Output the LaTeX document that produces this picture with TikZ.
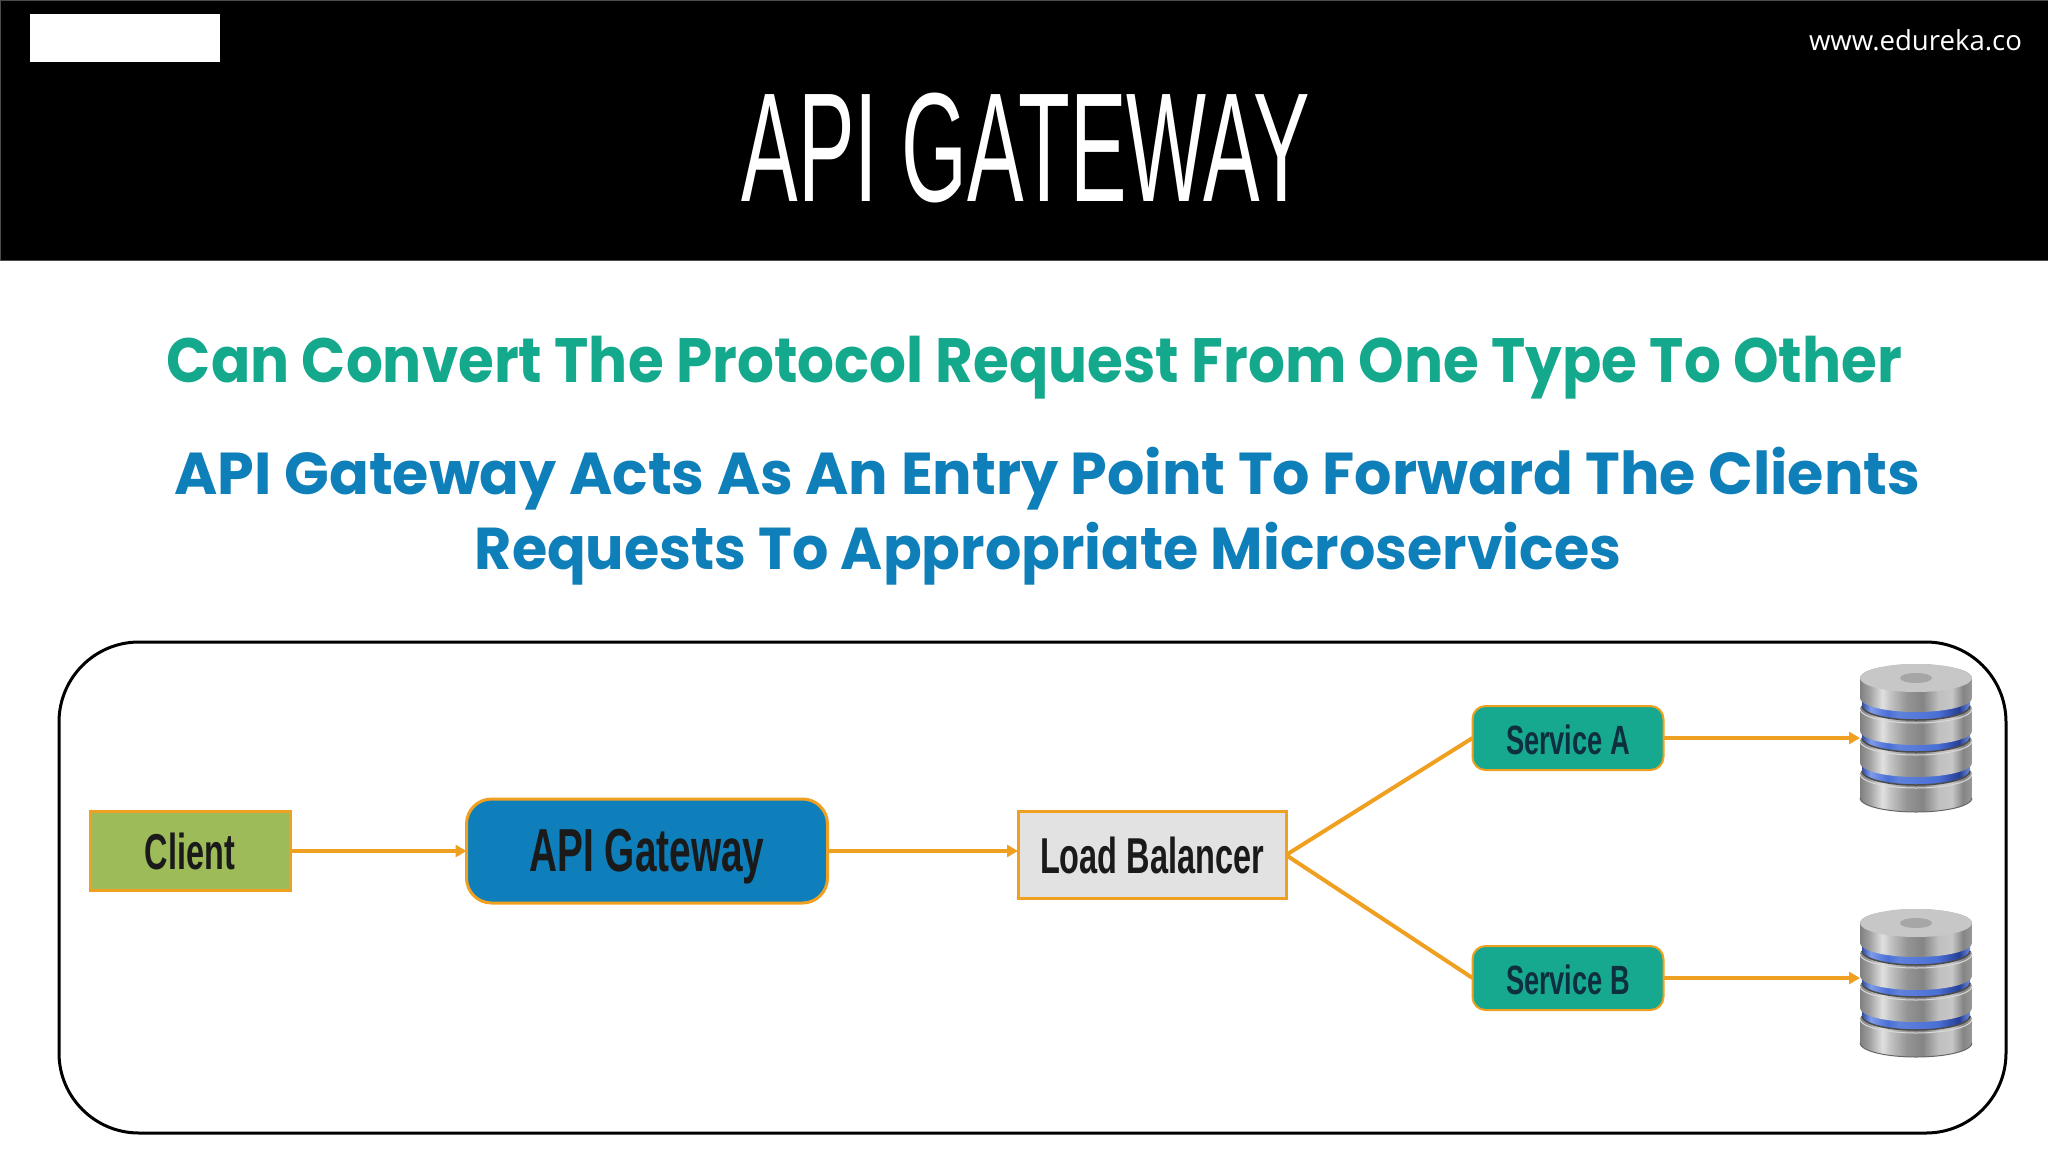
\documentclass[tikz,border=0pt]{standalone}
\usepackage{graphicx}
\usepackage{fontspec}
\setmainfont{Liberation Sans}
\newfontfamily\headfont{Poppins}
\newfontfamily\urlfont{Open Sans}
\usetikzlibrary{arrows.meta,calc}
\definecolor{flowor}{HTML}{F0A020}
\definecolor{tealbox}{HTML}{17A98F}
\definecolor{bluebox}{HTML}{0E7FBB}
\definecolor{greenbox}{HTML}{9DBB59}
\definecolor{greybox}{HTML}{E2E2E2}
\definecolor{headgreen}{HTML}{14A88C}
\definecolor{headblue}{HTML}{0F7FBA}
\definecolor{labelnavy}{HTML}{0E2F40}
\definecolor{labelblack}{HTML}{1A1A1A}
\definecolor{bandA}{HTML}{2F4FA8}
\definecolor{bandB}{HTML}{7F9BE8}
\definecolor{bandC}{HTML}{4A6FD6}
\definecolor{bandD}{HTML}{5F82DC}
\definecolor{bandE}{HTML}{263F96}
\definecolor{bandF}{HTML}{6F8FE0}
\pgfdeclarehorizontalshading{silverdisk}{100bp}{
  color(0bp)=(black!50); color(25bp)=(black!50); color(29bp)=(black!38);
  color(35bp)=(black!12); color(38bp)=(black!22); color(46bp)=(black!42);
  color(53bp)=(black!48); color(60bp)=(black!25); color(66bp)=(black!22);
  color(71bp)=(black!48); color(75bp)=(black!40); color(100bp)=(black!40)}
\pgfdeclarehorizontalshading{bluedisk}{100bp}{
  color(0bp)=(bandA); color(25bp)=(bandA); color(29bp)=(bandB);
  color(37bp)=(bandC); color(42bp)=(bandD); color(60bp)=(bandC);
  color(70bp)=(bandE); color(75bp)=(bandF); color(100bp)=(bandF)}
\newcommand\szbox[3]{\resizebox*{#1pt}{#2pt}{#3}}
\newcommand\slab[4]{% shading, top centre, bottom centre, half width
  \path[shading=#1] (-#4,#2) -- (-#4,#3) arc[start angle=180,end angle=360,x radius=#4pt,y radius=14pt]
     -- (#4,#2) arc[start angle=0,end angle=180,x radius=#4pt,y radius=14pt] -- cycle;}
\newcommand\dbstack[3]{% name, centre x, top y
  \node[dbbox] (#1) at (#2,#3+74) {};
  \begin{scope}[shift={(#2,#3)}]
    \slab{silverdisk}{110}{134}{56}
    \draw[white!85!black,line width=1pt] (-56,110) arc[start angle=180,end angle=360,x radius=56pt,y radius=14pt];
    \draw[black!60,line width=1pt] (-56,134) arc[start angle=180,end angle=360,x radius=56pt,y radius=14pt];
    \slab{bluedisk}{92}{107}{54}
    \draw[black!70,line width=1.5pt] (-54,107) arc[start angle=180,end angle=360,x radius=54pt,y radius=14pt];
    \slab{silverdisk}{77}{99}{56}
    \draw[white!85!black,line width=1pt] (-56,77) arc[start angle=180,end angle=360,x radius=56pt,y radius=14pt];
    \slab{bluedisk}{58}{74}{54}
    \draw[black!70,line width=1.5pt] (-54,74) arc[start angle=180,end angle=360,x radius=54pt,y radius=14pt];
    \slab{silverdisk}{45}{67}{56}
    \draw[white!85!black,line width=1pt] (-56,45) arc[start angle=180,end angle=360,x radius=56pt,y radius=14pt];
    \slab{bluedisk}{25}{42}{54}
    \draw[black!70,line width=1.5pt] (-54,42) arc[start angle=180,end angle=360,x radius=54pt,y radius=14pt];
    \slab{silverdisk}{14}{34}{56}
    \fill[black!22] (0,14) ellipse[x radius=56pt,y radius=14pt];
    \fill[black!35] (0,14) ellipse[x radius=16pt,y radius=5pt];
  \end{scope}}
\tikzset{
  x=1pt,y=-1pt,
  boxnode/.style={draw=flowor,line width=3pt,inner sep=0pt,outer sep=0pt},
  flow/.style={draw=flowor,line width=4pt,-{Triangle[length=11pt,width=12pt]}},
  link/.style={draw=flowor,line width=4pt},
  dbbox/.style={inner sep=0pt,outer sep=0pt,minimum width=112pt,minimum height=148pt},
  plain/.style={inner sep=0pt,outer sep=0pt}
}
\begin{document}
\begin{tikzpicture}
\useasboundingbox (0,0) rectangle (2048,1152);
\fill[white] (0,0) rectangle (2048,1152);
\node[fill=black,draw=black!70,line width=1pt,minimum width=2048pt,minimum height=260pt,plain] (banner) at (1024,130) {};
\node[fill=white,minimum width=190pt,minimum height=48pt,plain] (patch) at (125,38) {};
\node[plain,anchor=base east,text=white] (url) at (2022,50) {\resizebox{213pt}{!}{\urlfont www.edureka.co}};
\node[plain,text=white] (title) at (1026,148) {\szbox{568}{110}{API GATEWAY}};
\node[plain,text=headgreen] (headA) at (1034.5,368) {\szbox{1735}{63}{\headfont\bfseries Can Convert The Protocol Request From One Type To Other}};
\node[plain,text=headblue] (headB) at (1047.5,479) {\szbox{1745}{63}{\headfont\bfseries API Gateway Acts As An Entry Point To Forward The Clients}};
\node[plain,text=headblue] (headC) at (1048,554) {\szbox{1146}{63}{\headfont\bfseries Requests To Appropriate Microservices}};
\node[draw=black,line width=3pt,rounded corners=80pt,minimum width=1947pt,minimum height=491pt,plain] (frame) at (1032.5,887.5) {};
\node[boxnode,fill=greenbox,minimum width=200pt,minimum height=79pt,text=labelblack] (client) at (190,851) {\szbox{90}{37}{\bfseries Client}};
\node[boxnode,fill=bluebox,rounded corners=25pt,minimum width=361pt,minimum height=104pt,text=labelblack] (gw) at (647,851) {\vbox{\vskip 12pt\hbox{\szbox{235}{55}{\bfseries API Gateway}}}};
\node[boxnode,fill=greybox,minimum width=268pt,minimum height=87pt,text=labelblack] (lb) at (1152,855) {\szbox{224}{37}{\bfseries Load Balancer}};
\node[boxnode,line width=2pt,fill=tealbox,rounded corners=13pt,minimum width=191pt,minimum height=64pt,text=labelnavy] (svcA) at (1568,738) {\vbox{\vskip 4pt\hbox{\szbox{124}{30}{\bfseries Service A}}}};
\node[boxnode,line width=2pt,fill=tealbox,rounded corners=13pt,minimum width=191pt,minimum height=64pt,text=labelnavy] (svcB) at (1568,978) {\vbox{\vskip 4pt\hbox{\szbox{124}{30}{\bfseries Service B}}}};
\dbstack{dbA}{1916}{664}
\dbstack{dbB}{1916}{909}
\draw[flow] (client.east) -- (client.east -| gw.west);
\draw[flow] (gw.east) -- (gw.east -| lb.west);
\draw[link] (lb.east) -- (svcA.west);
\draw[link] (lb.east) -- (svcB.west);
\draw[flow] (svcA.east) -- (svcA.east -| dbA.west);
\draw[flow] (svcB.east) -- (svcB.east -| dbB.west);
\end{tikzpicture}
\end{document}
